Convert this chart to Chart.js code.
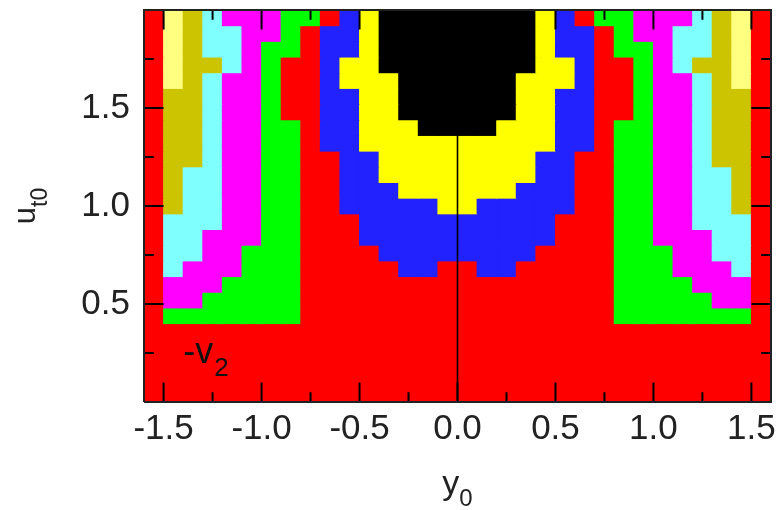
<!DOCTYPE html>
<html>
<head>
<meta charset="utf-8">
<script src="https://cdn.jsdelivr.net/npm/chart.js@4.4.1/dist/chart.umd.min.js"></script>
<style>
  html, body { margin: 0; padding: 0; background: #fff; }
</style>
</head>
<body>
<canvas id="map" width="781" height="510"></canvas>
<script>
// cell centres along y0 (32 columns, 0.1 wide)
const yCentres = [-1.55, -1.45, -1.35, -1.25, -1.15, -1.05, -0.95, -0.85,
                  -0.75, -0.65, -0.55, -0.45, -0.35, -0.25, -0.15, -0.05,
                   0.05,  0.15,  0.25,  0.35,  0.45,  0.55,  0.65,  0.75,
                   0.85,  0.95,  1.05,  1.15,  1.25,  1.35,  1.45,  1.55];
// row edges along u_t0 (25 rows, 0.08 tall)
const uEdges = [0, 0.08, 0.16, 0.24, 0.32, 0.40, 0.48, 0.56, 0.64, 0.72,
                0.80, 0.88, 0.96, 1.04, 1.12, 1.20, 1.28, 1.36, 1.44, 1.52,
                1.60, 1.68, 1.76, 1.84, 1.92, 2.00];
// level of every cell, top row first
// R red, G green, M magenta, C cyan, O olive, L pale yellow, B blue, Y yellow, K black
const cellRows = [
  'RLOCMMMGGRBYKKKKKKKKYBRGGMMMCOLR',
  'RLOCCMMGRBBYKKKKKKKKYBBRGMMCCOLR',
  'RLOCCMGGRBBYKKKKKKKKYBBRGGMCCOLR',
  'RLOOCMGRRBYYKKKKKKKKYYBRRGMCOOLR',
  'RLOCMMGRRBYYYKKKKKKYYYBRRGMMCOLR',
  'ROOCMMGRRBBYYKKKKKKYYBBRRGMMCOOR',
  'ROOCMMGRRBBYYKKKKKKYYBBRRGMMCOOR',
  'ROOCMMGGRBBYYYKKKKYYYBBRGGMMCOOR',
  'ROOCMMGGRBBYYYYYYYYYYBBRGGMMCOOR',
  'ROOCMMGGRRBBYYYYYYYYBBRRGGMMCOOR',
  'ROCCMMGGRRBBYYYYYYYYBBRRGGMMCCOR',
  'ROCCMMGGRRBBBYYYYYYBBBRRGGMMCCOR',
  'ROCCMMGGRRBBBBBYYBBBBBRRGGMMCCOR',
  'RCCCMMGGRRRBBBBBBBBBBRRRGGMMCCCR',
  'RCCMMMGGRRRBBBBBBBBBBRRRGGMMMCCR',
  'RCCMMGGGRRRRBBBBBBBBRRRRGGGMMCCR',
  'RCMMMGGGRRRRRBBRRBBRRRRRGGGMMMCR',
  'RMMMGGGGRRRRRRRRRRRRRRRRGGGGMMMR',
  'RMMGGGGGRRRRRRRRRRRRRRRRGGGGGMMR',
  'RGGGGGGGRRRRRRRRRRRRRRRRGGGGGGGR',
  'RRRRRRRRRRRRRRRRRRRRRRRRRRRRRRRR',
  'RRRRRRRRRRRRRRRRRRRRRRRRRRRRRRRR',
  'RRRRRRRRRRRRRRRRRRRRRRRRRRRRRRRR',
  'RRRRRRRRRRRRRRRRRRRRRRRRRRRRRRRR',
  'RRRRRRRRRRRRRRRRRRRRRRRRRRRRRRRR',
];
const xTickLabels = [-1.5, -1.0, -0.5, 0.0, 0.5, 1.0, 1.5];
const xMinorTicks = [-1.25, -0.75, -0.25, 0.25, 0.75, 1.25];
const yTickLabels = [0.5, 1.0, 1.5];
const yMinorTicks = [0.25, 0.75, 1.25, 1.75];
const zeroLineU = [0, 2.0];
const X_MIN = -1.6, X_MAX = 1.6, U_MIN = 0, U_MAX = 2.0;

const levelColours = {
  R: '#ff0000', G: '#00ff00', M: '#ff00ff', C: '#80ffff', O: '#ccc400',
  L: '#ffff80', B: '#2222ff', Y: '#ffff00', K: '#000000',
};

const FONT = "'Liberation Sans', Arial, sans-serif";
Chart.defaults.font.family = FONT;

const nRows = cellRows.length;
const cellSets = cellRows.map((row, i) => ({
  type: 'bar',
  order: 1,
  grouped: false,
  data: yCentres.map(x => ({ x, y: [uEdges[nRows - 1 - i], uEdges[nRows - i]] })),
  backgroundColor: row.split('').map(c => levelColours[c]),
  borderWidth: 0,
  barPercentage: 1,
  categoryPercentage: 1,
  inflateAmount: 0.5,
}));

const lineStyle = { type: 'line', order: 0, pointRadius: 0, fill: false, clip: false, spanGaps: false };

const zeroLine = Object.assign({}, lineStyle, {
  data: zeroLineU.map(u => ({ x: 0, y: u })),
  borderColor: '#000',
  borderWidth: 1.6,
});

// inward tick marks on all four sides, as short broken line segments
const MAJ = 0.1, MIN = 0.05;   // tick length in axis units
function xTicks(vals, len) {
  return vals.flatMap(v => [
    { x: v, y: U_MIN }, { x: v, y: U_MIN + len }, { x: v, y: null },
    { x: v, y: U_MAX }, { x: v, y: U_MAX - len }, { x: v, y: null },
  ]);
}
function yTicks(vals, len) {
  return vals.flatMap(v => [
    { x: X_MIN, y: v }, { x: X_MIN + len, y: v }, { x: X_MIN, y: null },
    { x: X_MAX, y: v }, { x: X_MAX - len, y: v }, { x: X_MAX, y: null },
  ]);
}
const tickSet = Object.assign({}, lineStyle, {
  data: [...xTicks(xTickLabels, MAJ), ...xTicks(xMinorTicks, MIN),
         ...yTicks(yTickLabels, MAJ), ...yTicks(yMinorTicks, MIN)],
  borderColor: '#000',
  borderWidth: 2,
});

const frameSet = Object.assign({}, lineStyle, {
  data: [{ x: X_MIN, y: U_MIN }, { x: X_MAX, y: U_MIN }, { x: X_MAX, y: U_MAX },
         { x: X_MIN, y: U_MAX }, { x: X_MIN, y: U_MIN }],
  borderColor: '#222',
  borderWidth: 2,
});

// axis titles with subscripts and the panel label
const titles = {
  id: 'titles',
  afterDraw(chart) {
    const ctx = chart.ctx;
    const a = chart.chartArea;
    const sx = chart.scales.x, sy = chart.scales.y;
    ctx.save();
    ctx.fillStyle = '#222';
    ctx.textBaseline = 'alphabetic';
    ctx.textAlign = 'left';

    // x title: y0
    ctx.font = '34px ' + FONT;
    const wy = ctx.measureText('y').width;
    ctx.font = '24px ' + FONT;
    const w0 = ctx.measureText('0').width;
    const tx = (a.left + a.right) / 2 - (wy + w0) / 2;
    ctx.font = '34px ' + FONT;
    ctx.fillText('y', tx, 494);
    ctx.font = '24px ' + FONT;
    ctx.fillText('0', tx + wy, 506);

    // y title: u t0, rotated
    ctx.font = '31px ' + FONT;
    const wu = ctx.measureText('u').width;
    ctx.font = '23px ' + FONT;
    const wt = ctx.measureText('t0').width;
    const cy = (a.top + a.bottom) / 2;
    ctx.save();
    ctx.translate(35, cy + (wu + wt) / 2);
    ctx.rotate(-Math.PI / 2);
    ctx.font = '31px ' + FONT;
    ctx.fillText('u', 0, 0);
    ctx.font = '23px ' + FONT;
    ctx.fillText('t0', wu, 11.5);
    ctx.restore();

    // panel label -v2
    ctx.fillStyle = '#111';
    const lx = sx.getPixelForValue(-1.4);
    const ly = sy.getPixelForValue(0.2);
    ctx.font = '36px ' + FONT;
    ctx.fillText('-v', lx, ly);
    const wv = ctx.measureText('-v').width;
    ctx.font = '26px ' + FONT;
    ctx.fillText('2', lx + wv + 1, ly + 13);
    ctx.restore();
  }
};

new Chart(document.getElementById('map'), {
  type: 'bar',
  data: { datasets: [frameSet, tickSet, zeroLine, ...cellSets] },
  options: {
    responsive: false,
    devicePixelRatio: 1,
    animation: false,
    events: [],
    layout: { padding: { top: 10, right: 10, left: 0, bottom: 0 } },
    plugins: { legend: { display: false }, tooltip: { enabled: false } },
    scales: {
      x: {
        type: 'linear',
        min: X_MIN,
        max: X_MAX,
        offset: false,
        grid: { display: false, drawTicks: false, offset: false },
        border: { display: false },
        afterBuildTicks: s => { s.ticks = xTickLabels.map(v => ({ value: v })); },
        afterFit: s => { s.height = 108; s.paddingLeft = 0; s.paddingRight = 0; },
        ticks: {
          autoSkip: false,
          maxRotation: 0,
          padding: 10,
          color: '#222',
          font: { size: 35, lineHeight: 1 },
          callback: v => Number(v).toFixed(1),
        },
      },
      y: {
        type: 'linear',
        min: U_MIN,
        max: U_MAX,
        grid: { display: false, drawTicks: false },
        border: { display: false },
        afterBuildTicks: s => { s.ticks = yTickLabels.map(v => ({ value: v })); },
        afterFit: s => { s.width = 144; s.paddingTop = 0; s.paddingBottom = 0; },
        ticks: {
          autoSkip: false,
          padding: 14,
          color: '#222',
          font: { size: 35, lineHeight: 1 },
          callback: v => Number(v).toFixed(1),
        },
      },
    },
  },
  plugins: [titles],
});
</script>
</body>
</html>
